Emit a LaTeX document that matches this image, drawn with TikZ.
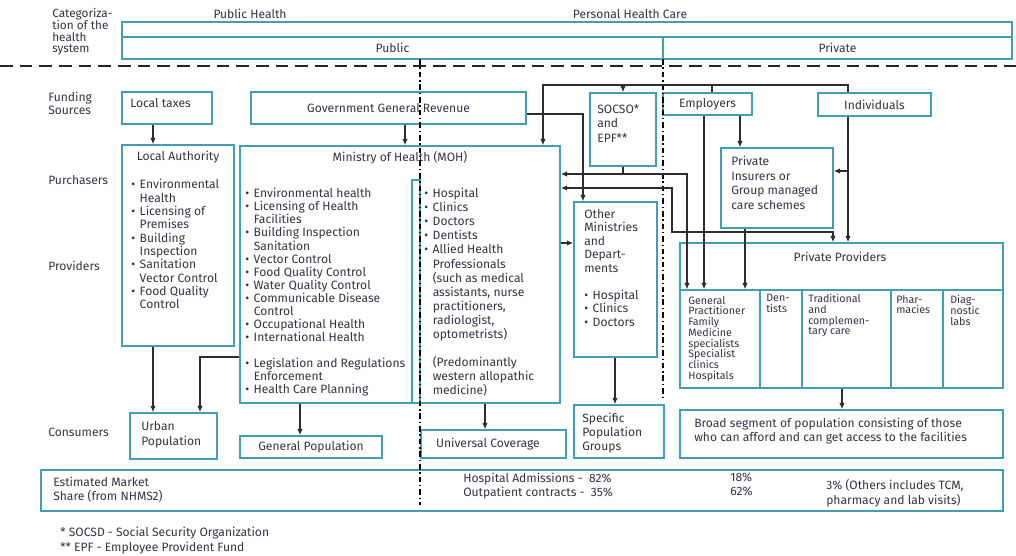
\documentclass[tikz,border=0pt]{standalone}
\usepackage{fontspec}
\setmainfont{Fira Sans}
\usetikzlibrary{arrows.meta,positioning,fit,calc}
\definecolor{boxteal}{RGB}{66,158,178}
\definecolor{ink}{RGB}{52,50,68}
\definecolor{wire}{RGB}{45,45,45}
\newcommand{\itm}{\makebox[0.7em][l]{\textbullet}}
\newcommand{\ind}{\hspace*{0.7em}}

\begin{document}
\begin{tikzpicture}[x=0.025cm,y=-0.025cm,>={Latex[length=4.5pt,width=4pt]},
  txt/.style={font=\fontsize{8.6}{9.3}\selectfont,text=ink,inner sep=0pt,align=left},
  sm/.style={txt,font=\fontsize{7.6}{7.6}\selectfont,anchor=north west},
  box/.style={draw=boxteal,line width=1.1pt,inner sep=0pt,fit={#1}},
  sep/.style={draw=black!85,line width=0.8pt,dash pattern=on 9pt off 5pt},
  vsep/.style={draw=black,line width=0.8pt,dash pattern=on 4pt off 2pt on 1pt off 2pt},
  flow/.style={->,draw=wire,line width=1.3pt},
  wire/.style={draw=wire,line width=0.9pt}]
\useasboundingbox (0,0) rectangle (1016,555);

% categorization
\node[txt,anchor=north west,font=\fontsize{8.4}{8.4}\selectfont] (cat) at (52,8) {Categoriza-\\tion of the\\health\\system};
\node[txt] (pubh) at (250,14) {Public Health};
\node[txt] (phc) at (630,14) {Personal Health Care};
\node[box={(122,22) (1012,37)}] (cattop) {};
\node[box={(122,37) (663,59)}] (catpub) {};
\node[box={(663,37) (1012,59)}] (catpriv) {};
\node[txt] at (catpub) {Public};
\node[txt] at (catpriv) {Private};

% row labels
\node[txt,anchor=north west] (lfund) at (48,92) {Funding\\Sources};
\node[txt,anchor=west] (lpurch) at (48,180) {Purchasers};
\node[txt,anchor=west] (lprov) at (48,266) {Providers};
\node[txt,anchor=west] (lcons) at (48,432) {Consumers};

% funding sources
\node[box={(122,92) (212,124)}] (ltax) {};
\node[txt,anchor=north west] at (130,98) {Local taxes};
\node[box={(251,92) (526,124)}] (ggr) {};
\node[txt] at (ggr) {Government General Revenue};
\node[box={(590,93) (656,166)}] (socso) {};
\node[txt,anchor=north west,font=\fontsize{8.6}{10.5}\selectfont] at (597,104) {SOCSO*\\and\\EPF**};
\node[box={(663,93) (752,115)}] (empl) {};
\node[txt] at (empl) {Employers};
\node[box={(818,93) (931,116)}] (indiv) {};
\node[txt] at (indiv) {Individuals};

% purchasers / providers
\node[box={(122,145) (234,346)}] (lauth) {};
\node[txt] at (178,157) {Local Authority};
\node[txt,anchor=north west,font=\fontsize{8.6}{9.5}\selectfont] at (131,179) {\itm Environmental\\\ind Health\\\itm Licensing of\\\ind Premises\\\itm Building\\\ind Inspection\\\itm Sanitation\\\ind Vector Control\\\itm Food Quality\\\ind Control};

\node[box={(240,146) (560,403)}] (moh) {};
\node[txt] at (400,158) {Ministry of Health (MOH)};
\draw[draw=boxteal,line width=1.1pt] (412,403) -- (412,180) -- (420,180) -- (420,403);
\node[txt,anchor=north west] at (245,188) {\itm Environmental health\\\itm Licensing of Health\\\ind Facilities\\\itm Building Inspection\\\ind Sanitation\\\itm Vector Control\\\itm Food Quality Control\\\itm Water Quality Control\\\itm Communicable Disease\\\ind Control\\\itm Occupational Health\\\itm International Health\\[9.3pt]\itm Legislation and Regulations\\\ind Enforcement\\\itm Health Care Planning};
\node[txt,anchor=north west,font=\fontsize{8.6}{10}\selectfont] at (424,188) {\itm Hospital\\\itm Clinics\\\itm Doctors\\\itm Dentists\\\itm Allied Health\\\ind Professionals\\\ind (such as medical\\\ind assistants, nurse\\\ind practitioners,\\\ind radiologist,\\\ind optometrists)\\[10pt]\ind (Predominantly\\\ind western allopathic\\\ind medicine)};

\node[box={(574,202) (657,357)}] (othmin) {};
\node[txt,anchor=north west,font=\fontsize{8.6}{9.6}\selectfont] at (584,209) {Other\\Ministries\\and\\Depart-\\ments\\[9.6pt]\itm Hospital\\\itm Clinics\\\itm Doctors};

\node[box={(721,148) (833,228)}] (privins) {};
\node[txt,anchor=north west,font=\fontsize{8.6}{10.3}\selectfont] at (731,156) {Private\\Insurers or\\Group managed\\care schemes};

\node[box={(680,243) (1003,388)}] (privprov) {};
\node[txt] at (840,257) {Private Providers};
\node[box={(680,290) (760,388)}] (ppgp) {};
\node[box={(760,290) (802,388)}] (ppden) {};
\node[box={(802,290) (891,388)}] (pptrad) {};
\node[box={(891,290) (943,388)}] (ppphar) {};
\node[box={(943,290) (1003,388)}] (pplab) {};
\node[sm] at (688,296) {General\\Practitioner\\Family\\Medicine\\specialists\\Specialist\\clinics\\Hospitals};
\node[sm] at (766,294) {Den-\\tists};
\node[sm] at (808,294) {Traditional\\and\\complemen-\\tary care};
\node[sm] at (896,295) {Phar-\\macies};
\node[sm] at (950,295) {Diag-\\nostic\\labs};

% consumers
\node[box={(130,413) (217,459)}] (urban) {};
\node[txt,anchor=north west,font=\fontsize{8.6}{10.5}\selectfont] at (141,421) {Urban\\Population};
\node[box={(240,436) (382,458)}] (genpop) {};
\node[txt] at (genpop) {General Population};
\node[box={(421,430) (566,458)}] (univ) {};
\node[txt] at ([xshift=-4]univ.center) {Universal Coverage};
\node[box={(574,405) (664,458)}] (specpop) {};
\node[txt,anchor=north west,font=\fontsize{8.6}{10}\selectfont] at (582,413) {Specific\\Population\\Groups};
\node[box={(680,410) (1003,458)}] (broad) {};
\node[txt,anchor=north west,font=\fontsize{8.6}{10}\selectfont] at (694,418) {Broad segment of population consisting of those\\who can afford and can get access to the facilities};

% market share
\node[box={(41,470) (1003,511)}] (mkt) {};
\node[txt,anchor=north west,font=\fontsize{8.6}{10}\selectfont] at (53,477) {Estimated Market\\Share (from NHMS2)};
\node[txt,anchor=north west,font=\fontsize{8.6}{10}\selectfont] at (463,473) {Hospital Admissions -\ \ 82\%\\Outpatient contracts -\ \ 35\%};
\node[txt,anchor=north west,font=\fontsize{8.6}{10}\selectfont] at (730,473) {18\%\\62\%};
\node[txt,anchor=north west,font=\fontsize{8.6}{10.5}\selectfont] at (826,479) {3\% (Others includes TCM,\\pharmacy and lab visits)};

\node[txt,anchor=west] (fn1) at (60,533) {* SOCSD - Social Security Organization};
\node[txt,anchor=west] (fn2) at (60,548) {** EPF - Employee Provident Fund};

% separators
\draw[sep] (0,66) -- (1016,66);
\draw[vsep] (420,59) -- (420,505);
\draw[vsep] (663,59) -- (663,400);

% flows
\draw[flow] (153,0 |- ltax.south) -- (153,0 |- lauth.north);
\draw[flow] (405,0 |- ggr.south) -- (405,0 |- moh.north);
\draw[flow] (153,0 |- lauth.south) -- (153,0 |- urban.north);
\draw[flow] (moh.west |- 0,357) -| (200,0 |- urban.north);
\draw[flow] (300,0 |- moh.south) -- (300,0 |- genpop.north);
\draw[flow] (485,0 |- moh.south) -- (485,0 |- univ.north);
\draw[flow] (615,0 |- othmin.south) -- (615,0 |- specpop.north);
\draw[flow] (842,0 |- privprov.south) -- (842,0 |- broad.north);

\draw[wire,->] (848,0 |- indiv.north) |- (543,85) -- (543,0 |- moh.north);
\draw[wire,->] (623,85) -- (623,0 |- socso.north);
\draw[wire] (712,0 |- empl.north) -- (712,85);
\draw[wire,->] (ggr.east |- 0,114) -| (583,0 |- othmin.north);
\draw[wire,->] (623,0 |- socso.south) |- (moh.east |- 0,174);
\draw[wire,->] (623,174) -| (687,0 |- ppgp.north);
\draw[wire,<->] (moh.east |- 0,188) -| (672,232) -| (833,0 |- privprov.north);
\draw[wire,->] (moh.east |- 0,243) -- (othmin.west |- 0,243);
\draw[wire,->] (704,0 |- empl.south) -- (704,0 |- ppgp.north);
\draw[wire,->] (740,0 |- empl.south) -- (740,0 |- privins.north);
\draw[wire,->] (745,0 |- privins.south) -- (745,0 |- ppgp.north);
\draw[wire,->] (848,171) -- (privins.east |- 0,171);
\draw[wire,->] (848,0 |- indiv.south) -- (848,0 |- privprov.north);
\end{tikzpicture}
\end{document}
